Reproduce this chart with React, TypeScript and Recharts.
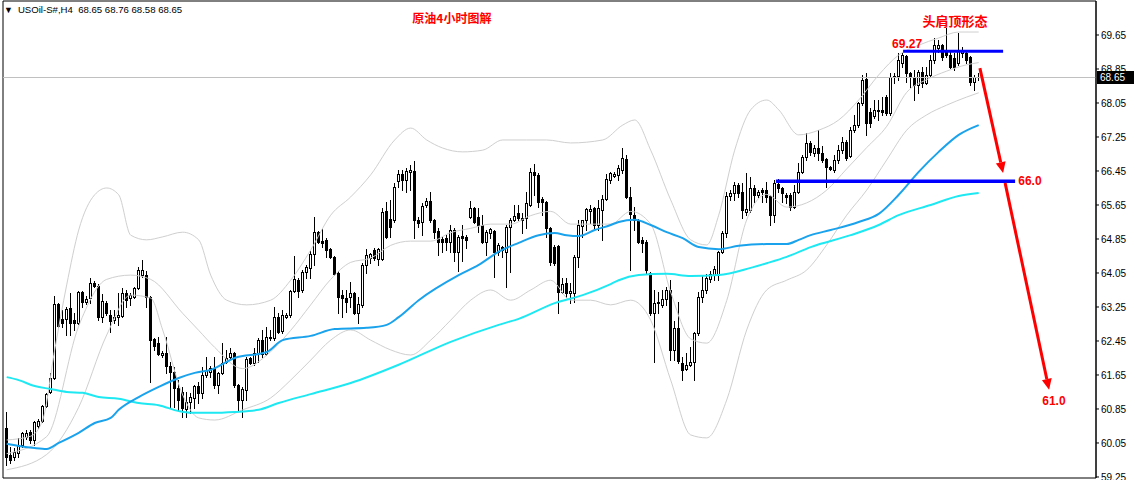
import React from 'react';
import { ComposedChart, Bar, Line, XAxis, YAxis, ReferenceLine, ReferenceArea, ReferenceDot } from 'recharts';

// [open, high, low, close] per H4 bar
const candles: number[][] = [
  [60.40, 60.78, 59.53, 59.72], [59.77, 59.96, 59.58, 59.65], [59.72, 59.93, 59.65, 59.84], [59.82, 60.17, 59.72, 60.00],
  [60.00, 60.31, 59.96, 60.29], [60.19, 60.35, 60.15, 60.29], [60.31, 60.36, 60.05, 60.12], [60.12, 60.57, 60.00, 60.54],
  [60.45, 60.62, 60.40, 60.57], [60.57, 60.95, 60.55, 60.92], [60.92, 61.22, 60.90, 61.20], [61.25, 61.70, 61.22, 61.58],
  [61.58, 63.51, 61.55, 63.32], [63.32, 63.34, 62.78, 62.80], [62.97, 63.18, 62.78, 62.87], [62.97, 63.25, 62.59, 63.20],
  [63.23, 63.58, 62.59, 62.87], [62.94, 63.11, 62.71, 62.87], [62.87, 63.62, 62.85, 63.60], [63.60, 63.62, 63.25, 63.37],
  [63.37, 63.50, 63.32, 63.44], [63.46, 63.93, 63.34, 63.81], [63.81, 63.86, 63.72, 63.74], [63.74, 63.79, 62.94, 63.01],
  [63.01, 63.55, 62.90, 63.40], [63.34, 63.40, 63.05, 63.11], [63.06, 63.18, 62.66, 62.92], [62.94, 63.18, 62.87, 63.01],
  [63.01, 63.58, 62.83, 63.06], [63.04, 63.70, 63.01, 63.58], [63.58, 63.65, 63.25, 63.42], [63.46, 63.58, 63.30, 63.53],
  [63.49, 63.72, 63.46, 63.70], [63.70, 64.19, 63.68, 64.12], [64.00, 64.36, 63.96, 64.12], [64.00, 64.10, 63.25, 63.49],
  [63.49, 63.51, 61.49, 62.47], [62.49, 62.52, 62.24, 62.33], [62.40, 62.54, 62.12, 62.14], [62.12, 62.21, 62.07, 62.17],
  [62.17, 62.54, 61.70, 61.86], [61.86, 61.96, 60.89, 61.72], [61.72, 61.84, 60.89, 61.34], [61.34, 61.53, 60.83, 61.06],
  [61.25, 61.37, 60.66, 60.87], [60.85, 61.25, 60.66, 61.01], [61.01, 61.23, 60.75, 61.13], [61.11, 61.42, 60.87, 61.39],
  [61.39, 61.49, 60.99, 61.23], [61.23, 61.84, 61.11, 61.65], [61.65, 62.07, 61.60, 61.77], [61.72, 61.86, 61.60, 61.82],
  [61.82, 62.07, 61.34, 61.42], [61.42, 61.72, 61.23, 61.70], [61.70, 62.40, 61.68, 61.93], [61.96, 62.24, 61.93, 62.05],
  [62.07, 62.29, 62.05, 62.17], [62.17, 62.19, 61.37, 61.42], [61.42, 61.44, 60.83, 61.06], [61.06, 61.37, 60.66, 61.32],
  [61.30, 62.07, 61.06, 62.03], [62.05, 62.07, 61.91, 61.93], [61.93, 62.29, 61.89, 62.17], [62.17, 62.52, 61.96, 62.47],
  [62.47, 62.71, 62.07, 62.14], [62.14, 62.78, 62.12, 62.54], [62.52, 62.71, 62.47, 62.54], [62.52, 63.25, 62.47, 63.01],
  [63.01, 63.11, 62.64, 62.66], [62.68, 63.18, 62.64, 63.06], [63.01, 63.11, 62.99, 63.06], [63.06, 63.65, 63.01, 63.63],
  [63.62, 64.45, 63.60, 63.91], [63.88, 63.93, 63.49, 63.62], [63.65, 64.12, 63.60, 64.07], [64.07, 64.24, 63.93, 64.19],
  [64.17, 64.57, 63.93, 64.50], [64.50, 65.37, 64.24, 65.01], [65.01, 65.03, 64.76, 64.78], [64.80, 65.11, 64.66, 64.76],
  [64.83, 64.87, 64.43, 64.59], [64.61, 64.64, 64.40, 64.43], [64.43, 64.45, 64.00, 64.03], [64.05, 64.10, 63.11, 63.49],
  [63.53, 63.65, 63.01, 63.46], [63.46, 63.65, 63.13, 63.37], [63.49, 63.84, 63.25, 63.58], [63.58, 63.60, 63.08, 63.11],
  [63.11, 63.49, 62.87, 63.32], [63.30, 64.28, 63.25, 64.24], [64.24, 64.61, 64.05, 64.47], [64.40, 64.52, 64.28, 64.50],
  [64.59, 64.64, 64.36, 64.40], [64.38, 64.64, 64.24, 64.61], [64.38, 65.58, 64.36, 65.49], [65.51, 65.72, 64.87, 64.90],
  [65.32, 65.77, 64.90, 65.13], [65.30, 66.17, 65.25, 66.07], [66.21, 66.47, 66.07, 66.38], [66.38, 66.47, 66.00, 66.24],
  [66.24, 66.52, 65.96, 66.45], [66.43, 66.59, 66.00, 66.47], [66.45, 66.68, 64.87, 65.30], [65.30, 65.37, 65.13, 65.23],
  [65.25, 65.70, 64.94, 65.63], [65.65, 65.82, 65.60, 65.74], [65.74, 65.96, 65.25, 65.30], [65.30, 65.32, 64.87, 65.01],
  [65.04, 65.11, 64.47, 64.78], [64.85, 64.90, 64.54, 64.78], [64.87, 64.94, 64.59, 64.78], [64.78, 65.18, 64.54, 65.06],
  [65.06, 65.11, 64.33, 64.54], [64.54, 64.94, 64.10, 64.90], [64.92, 65.18, 64.33, 64.87], [64.90, 64.94, 64.64, 64.83],
  [65.37, 65.75, 65.34, 65.58], [65.58, 65.60, 65.23, 65.25], [65.37, 65.58, 65.01, 65.18], [65.18, 65.42, 64.76, 64.78],
  [64.78, 65.06, 64.47, 65.01], [64.99, 65.11, 64.87, 65.08], [65.04, 65.06, 63.96, 64.54], [64.54, 64.76, 64.47, 64.71],
  [64.66, 64.68, 64.43, 64.59], [64.54, 65.18, 63.72, 65.13], [65.13, 65.34, 64.07, 65.30], [65.30, 65.65, 65.27, 65.39],
  [65.46, 65.65, 65.30, 65.34], [65.34, 65.46, 64.99, 65.30], [65.34, 65.96, 65.11, 65.70], [65.65, 66.52, 65.63, 66.43],
  [66.43, 66.61, 65.88, 66.36], [66.36, 66.40, 65.60, 65.72], [65.79, 65.84, 65.42, 65.72], [65.72, 65.75, 64.90, 65.11],
  [65.11, 65.13, 64.24, 64.31], [64.66, 64.71, 64.24, 64.28], [64.68, 64.71, 63.11, 63.60], [63.60, 63.93, 63.58, 63.79],
  [63.81, 63.93, 63.49, 63.58], [63.58, 63.81, 63.34, 63.62], [63.58, 64.47, 63.37, 64.43], [64.43, 65.30, 64.19, 65.18],
  [65.16, 65.30, 64.90, 65.30], [65.30, 65.58, 65.06, 65.55], [65.51, 65.65, 65.23, 65.55], [65.58, 65.60, 65.11, 65.18],
  [65.18, 65.77, 65.06, 65.58], [65.53, 65.89, 64.83, 65.79], [65.79, 66.38, 65.77, 66.26], [66.24, 66.43, 66.17, 66.40],
  [66.33, 66.43, 66.31, 66.38], [66.36, 66.59, 66.24, 66.52], [66.47, 66.99, 66.40, 66.75], [66.73, 66.83, 65.82, 65.84],
  [65.84, 66.07, 64.12, 65.44], [65.42, 65.60, 65.06, 65.30], [65.30, 65.32, 64.76, 64.78], [64.83, 64.90, 64.54, 64.76],
  [64.78, 64.83, 64.05, 64.12], [64.05, 64.07, 63.06, 63.11], [63.11, 63.65, 61.96, 63.34], [63.34, 63.60, 63.11, 63.37],
  [63.30, 63.65, 63.25, 63.44], [63.44, 63.72, 63.30, 63.65], [63.65, 63.88, 62.00, 62.24], [62.24, 62.92, 62.00, 62.75],
  [62.75, 63.37, 61.93, 61.98], [61.93, 62.07, 61.53, 61.77], [61.79, 62.17, 61.77, 61.89], [61.89, 62.31, 61.85, 61.96],
  [61.96, 62.66, 61.53, 62.64], [62.64, 63.60, 62.59, 63.49], [63.49, 64.00, 63.37, 63.65], [63.65, 64.03, 63.58, 63.93],
  [63.91, 64.10, 63.84, 64.03], [64.00, 64.22, 63.88, 64.15], [64.00, 64.57, 63.88, 64.54], [64.54, 65.04, 64.52, 64.99],
  [64.99, 65.96, 64.90, 65.86], [65.86, 66.00, 65.77, 65.93], [65.93, 66.19, 65.77, 66.12], [66.12, 66.17, 65.84, 65.93],
  [65.96, 66.17, 65.34, 65.53], [65.49, 66.40, 65.42, 65.56], [65.53, 66.31, 65.49, 66.05], [66.05, 66.12, 65.72, 65.89],
  [65.89, 66.00, 65.84, 65.96], [66.00, 66.05, 65.72, 65.96], [66.00, 66.19, 65.72, 65.84], [65.86, 65.89, 65.18, 65.42],
  [65.42, 66.24, 65.25, 66.17], [66.14, 66.26, 65.96, 66.05], [66.05, 66.07, 65.72, 65.93], [65.89, 65.93, 65.70, 65.84],
  [65.89, 65.93, 65.53, 65.60], [65.60, 66.12, 65.58, 65.96], [65.96, 66.64, 65.94, 66.43], [66.43, 66.83, 66.40, 66.78],
  [66.78, 67.35, 66.71, 67.11], [67.11, 67.16, 66.83, 66.90], [66.87, 67.06, 66.80, 66.99], [66.99, 67.42, 66.71, 66.87],
  [66.87, 67.04, 66.66, 66.71], [66.73, 66.75, 66.07, 66.54], [66.54, 66.57, 66.47, 66.50], [66.47, 66.83, 66.43, 66.71],
  [66.71, 67.06, 66.64, 66.94], [66.94, 67.25, 66.87, 67.13], [67.13, 67.18, 66.71, 66.75], [66.80, 67.49, 66.78, 67.42],
  [67.42, 67.77, 67.37, 67.53], [67.53, 68.07, 67.49, 68.05], [68.05, 68.71, 68.00, 68.59], [68.61, 68.75, 67.30, 67.58],
  [67.84, 67.94, 67.49, 67.58], [67.75, 68.12, 67.70, 67.89], [67.87, 68.12, 67.65, 67.89], [67.89, 68.19, 67.77, 67.84],
  [68.19, 68.24, 67.77, 67.82], [67.82, 68.75, 67.77, 68.66], [68.66, 68.75, 68.52, 68.68], [68.68, 69.22, 68.59, 69.06],
  [68.99, 69.22, 68.89, 69.18], [69.15, 69.18, 68.54, 68.75], [68.75, 68.78, 68.42, 68.66], [68.66, 68.83, 68.12, 68.47],
  [68.47, 68.83, 68.29, 68.78], [68.78, 68.89, 68.42, 68.52], [68.52, 68.89, 68.50, 68.71], [68.71, 69.18, 68.66, 69.06],
  [69.06, 69.58, 68.99, 69.41], [69.34, 69.53, 69.25, 69.41], [69.41, 69.43, 69.06, 69.13], [69.25, 69.81, 69.13, 69.18],
  [69.18, 69.25, 68.87, 68.89], [69.11, 69.22, 68.83, 68.89], [68.99, 69.70, 68.94, 69.30], [69.23, 69.37, 69.13, 69.30],
  [69.23, 69.25, 68.99, 69.06], [69.13, 69.15, 68.47, 68.54], [68.54, 68.71, 68.36, 68.66], [68.65, 68.76, 68.58, 68.65],
];

// moving averages, [bar index, price] read at intervals
const maBlue: number[][] = [
  [0, 60.03], [3, 59.98], [7, 59.93], [10, 59.91], [13, 60.05], [18, 60.29], [22, 60.52], [26, 60.64], [28, 60.83],
  [33, 61.13], [38, 61.37], [43, 61.58], [47, 61.70], [51, 61.77], [57, 62.05], [65, 62.19], [69, 62.47], [76, 62.57],
  [82, 62.73], [90, 62.76], [95, 62.83], [98, 63.01], [103, 63.41], [113, 64.00], [118, 64.24], [123, 64.55], [128, 64.76],
  [133, 64.94], [137, 64.99], [140, 64.94], [143, 64.92], [147, 65.06], [151, 65.18], [153, 65.25], [157, 65.30],
  [161, 65.18], [165, 65.01], [169, 64.87], [173, 64.66], [178, 64.61], [183, 64.69], [190, 64.73], [195, 64.73],
  [198, 64.83], [201, 64.94], [206, 65.06], [213, 65.25], [218, 65.44], [223, 65.89], [228, 66.43], [233, 66.90],
  [238, 67.30], [243, 67.53],
];
const maAqua: number[][] = [
  [0, 61.60], [3, 61.53], [7, 61.39], [11, 61.32], [15, 61.25], [19, 61.23], [23, 61.13], [28, 61.09], [33, 60.99],
  [38, 60.94], [43, 60.80], [46, 60.76], [51, 60.76], [57, 60.78], [63, 60.83], [68, 60.99], [76, 61.20], [86, 61.46],
  [98, 61.89], [111, 62.43], [123, 62.83], [128, 62.97], [137, 63.34], [144, 63.53], [151, 63.79], [153, 63.88],
  [158, 64.00], [165, 64.03], [171, 63.98], [178, 64.00], [186, 64.17], [190, 64.28], [195, 64.43], [201, 64.66],
  [211, 64.94], [218, 65.18], [223, 65.41], [231, 65.65], [238, 65.86], [243, 65.93],
];

// bollinger bands
const bandUpper: number[][] = [
  [0, 60.12], [6, 60.21], [9, 60.59], [12, 62.24], [15, 63.77], [18, 65.06], [22, 65.89], [25, 66.05], [28, 65.89],
  [31, 64.94], [35, 64.83], [39, 64.90], [44, 65.01], [48, 64.83], [51, 64.00], [55, 63.41], [60, 63.30], [66, 63.41],
  [71, 63.88], [76, 64.59], [81, 65.41], [86, 65.84], [91, 66.36], [97, 67.18], [101, 67.46], [105, 67.18], [109, 66.99],
  [114, 66.90], [119, 66.94], [124, 67.18], [130, 67.18], [135, 67.18], [141, 67.11], [149, 67.18], [154, 67.53],
  [157, 67.65], [161, 66.94], [166, 65.77], [171, 64.83], [175, 64.71], [178, 65.41], [182, 66.94], [186, 67.89],
  [190, 68.12], [193, 67.89], [198, 67.30], [203, 67.41], [208, 67.65], [213, 68.12], [218, 68.71], [223, 69.18],
  [228, 69.41], [233, 69.58], [238, 69.72], [243, 69.72],
];
const bandMid: number[][] = [
  [0, 59.80], [10, 60.20], [18, 62.80], [25, 63.90], [31, 64.00], [36, 63.90], [44, 63.10], [48, 62.70], [52, 62.30],
  [59, 61.80], [66, 62.20], [71, 62.70], [76, 63.30], [81, 63.90], [86, 64.30], [91, 64.40], [96, 64.70], [101, 64.80],
  [106, 64.80], [111, 65.00], [116, 65.10], [121, 65.20], [126, 65.20], [131, 65.40], [136, 65.50], [141, 65.20],
  [146, 65.20], [151, 65.20], [156, 65.50], [161, 65.20], [166, 63.60], [171, 62.50], [175, 62.40], [180, 63.40],
  [185, 65.30], [190, 65.90], [195, 65.60], [200, 65.70], [205, 66.00], [210, 66.50], [215, 67.00], [220, 67.50],
  [225, 68.30], [230, 68.60], [235, 68.80], [240, 68.95], [243, 69.00],
];
const bandLower: number[][] = [
  [0, 59.42], [10, 59.78], [18, 60.89], [25, 62.59], [31, 63.53], [36, 63.46], [39, 62.71], [44, 61.18], [48, 60.64],
  [52, 60.59], [59, 60.83], [66, 61.11], [71, 61.53], [76, 62.00], [81, 62.47], [86, 62.71], [91, 62.47], [96, 62.24],
  [101, 62.12], [106, 62.47], [111, 62.94], [116, 63.41], [121, 63.65], [126, 63.41], [131, 63.65], [136, 63.88],
  [141, 63.41], [146, 63.41], [151, 63.30], [156, 63.41], [161, 62.94], [166, 61.53], [171, 60.24], [175, 60.17],
  [180, 61.06], [185, 62.71], [190, 63.65], [195, 63.88], [200, 64.12], [205, 64.71], [210, 65.41], [215, 66.00],
  [220, 66.71], [225, 67.41], [230, 67.77], [235, 68.00], [240, 68.19], [243, 68.29],
];

const priceTicks = [59.25, 60.05, 60.85, 61.65, 62.45, 63.25, 64.05, 64.85, 65.65, 66.45, 67.25, 68.05, 68.85, 69.65];
const lastPrice = 68.65;
const headerText = 'USOil-S#,H4  68.65 68.76 68.58 68.65';

// plot scale: 4px per bar, 42.5px per dollar
const xMin = -0.925;
const xMax = 272.325;
const yMin = 59.226;
const yMax = 70.45;

const rows: any[] = candles.map(([o, h, l, c], i) => ({ i, o, h, l, c, range: [l, h] }));
const attach = (key: string, pts: number[][]) => pts.forEach(([i, v]) => { rows[i][key] = v; });
attach('maBlue', maBlue);
attach('maAqua', maAqua);
attach('bbUp', bandUpper);
attach('bbMid', bandMid);
attach('bbLow', bandLower);

const Candle = (props: any) => {
  const { x, y, width, height, payload } = props;
  if (x == null || !payload) return null;
  const { o, h, l, c } = payload;
  const cx = Math.round(x + width / 2) + 0.5;
  const k = h > l ? height / (h - l) : 0;
  const yo = y + (h - o) * k;
  const yc = y + (h - c) * k;
  const top = Math.round(Math.min(yo, yc)) + 0.5;
  const bot = Math.round(Math.max(yo, yc)) + 0.5;
  const up = c >= o;
  return (
    <g>
      <line x1={cx} x2={cx} y1={Math.round(y)} y2={Math.round(y + height) + 1} stroke="#000" strokeWidth={1} />
      {bot - top < 1
        ? <line x1={cx - 1.5} x2={cx + 1.5} y1={top} y2={top} stroke="#000" />
        : <rect x={cx - 1} y={top} width={2} height={bot - top} fill={up ? '#fff' : '#000'} stroke="#000" strokeWidth={1} />}
    </g>
  );
};

const Arrow = (props: any) => {
  const { x1, y1, x2, y2 } = props;
  const ang = Math.atan2(y2 - y1, x2 - x1);
  const len = 11, half = 5;
  const bx = x2 - len * Math.cos(ang), by = y2 - len * Math.sin(ang);
  const px = -Math.sin(ang) * half, py = Math.cos(ang) * half;
  return (
    <g>
      <line x1={x1} y1={y1} x2={bx} y2={by} stroke="#ff0000" strokeWidth={3} />
      <polygon points={`${x2},${y2} ${bx + px},${by + py} ${bx - px},${by - py}`} fill="#ff0000" />
    </g>
  );
};

const textShape = (txt: string, size: number, family: string) => (p: any) => (
  <text x={p.cx} y={p.cy} textAnchor="middle" dominantBaseline="central" fill="#ff0000"
    fontSize={size} fontWeight="bold" fontFamily={family}>{txt}</text>
);

const PriceTag = (props: any) => {
  const { viewBox } = props;
  if (!viewBox) return null;
  const x = viewBox.x + viewBox.width;
  const y = viewBox.y;
  return (
    <g>
      <rect x={x + 1} y={y - 6.5} width={37} height={13} fill="#000" />
      <text x={x + 4} y={y + 0.5} dominantBaseline="central" fill="#fff" fontSize={10}
        fontFamily="'Liberation Sans', Arial, sans-serif">{lastPrice.toFixed(2)}</text>
    </g>
  );
};

export default function App() {
  return (
    <div style={{ position: 'relative', width: 1135, height: 480, background: '#fff', overflow: 'hidden' }}>
      <style>{'body{margin:0;}'}</style>
      <ComposedChart width={1135} height={480} data={rows} margin={{ top: 1, right: 0, bottom: 2, left: 3 }}>
        <XAxis type="number" dataKey="i" domain={[xMin, xMax]} hide allowDataOverflow />
        <YAxis orientation="right" type="number" domain={[yMin, yMax]} ticks={priceTicks} interval={0}
          allowDataOverflow width={39} tickSize={3} tickMargin={2}
          tickFormatter={(v: number) => v.toFixed(2)}
          tick={{ fontSize: 10, fill: '#000', fontFamily: "'Liberation Sans', Arial, sans-serif" }}
          axisLine={{ stroke: '#000' }} tickLine={{ stroke: '#000' }} />
        <ReferenceArea x1={xMin} x2={xMax} y1={yMin} y2={yMax} fill="none" stroke="#000" strokeWidth={1} ifOverflow="visible" />
        <ReferenceLine y={lastPrice} stroke="#c0c0c0" strokeWidth={1} label={<PriceTag />} />

        <Line dataKey="bbUp" stroke="#cfcfcf" strokeWidth={1} dot={false} type="monotone" connectNulls isAnimationActive={false} />
        <Line dataKey="bbMid" stroke="#cfcfcf" strokeWidth={1} dot={false} type="monotone" connectNulls isAnimationActive={false} />
        <Line dataKey="bbLow" stroke="#cfcfcf" strokeWidth={1} dot={false} type="monotone" connectNulls isAnimationActive={false} />

        <Bar dataKey="range" barSize={3} shape={<Candle />} isAnimationActive={false} />

        <Line dataKey="maAqua" stroke="#1ee8f2" strokeWidth={2} dot={false} type="monotone" connectNulls isAnimationActive={false} />
        <Line dataKey="maBlue" stroke="#1aa3ec" strokeWidth={2} dot={false} type="monotone" connectNulls isAnimationActive={false} />

        <ReferenceLine segment={[{ x: 224.1, y: 69.27 }, { x: 249.1, y: 69.27 }]} stroke="#0000ff" strokeWidth={3} />
        <ReferenceLine segment={[{ x: 192.3, y: 66.21 }, { x: 252.1, y: 66.21 }]} stroke="#0000ff" strokeWidth={3.5} />
        <ReferenceLine segment={[{ x: 243.3, y: 68.87 }, { x: 249.1, y: 66.4 }]} shape={Arrow} />
        <ReferenceLine segment={[{ x: 249.6, y: 66.17 }, { x: 260.6, y: 61.3 }]} shape={Arrow} />

        <ReferenceDot x={111.3} y={70.07} r={0} shape={textShape('原油4小时图解', 12, "'Noto Sans CJK SC', sans-serif")} />
        <ReferenceDot x={237.1} y={70.0} r={0} shape={textShape('头肩顶形态', 13, "'Noto Sans CJK SC', sans-serif")} />
        <ReferenceDot x={225.1} y={69.44} r={0} shape={textShape('69.27', 12, "'Liberation Sans', Arial, sans-serif")} />
        <ReferenceDot x={255.8} y={66.21} r={0} shape={textShape('66.0', 12, "'Liberation Sans', Arial, sans-serif")} />
        <ReferenceDot x={261.8} y={61.04} r={0} shape={textShape('61.0', 12, "'Liberation Sans', Arial, sans-serif")} />
      </ComposedChart>
      <div style={{ position: 'absolute', left: 4, top: 4, fontSize: 9.6, color: '#000', whiteSpace: 'pre',
        fontFamily: "'Liberation Sans', Arial, sans-serif" }}>
        <span style={{ fontSize: 9, marginRight: 5 }}>▼</span>{headerText}
      </div>
    </div>
  );
}
